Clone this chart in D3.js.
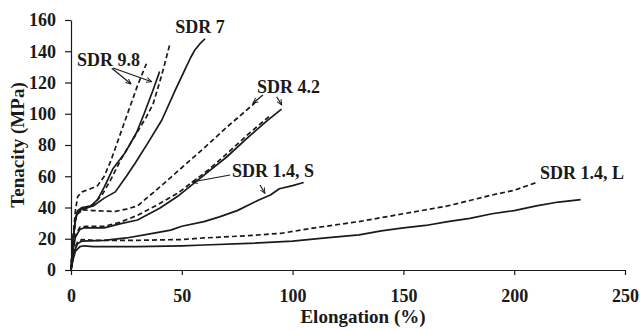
<!DOCTYPE html>
<html>
<head>
<meta charset="utf-8">
<script src="https://cdn.jsdelivr.net/npm/d3@7"></script>
<style>
  html, body { margin: 0; padding: 0; background: #fff; }
  svg text { font-family: "Liberation Serif", "DejaVu Serif", serif; font-weight: bold; fill: #1a1a1a; }
</style>
</head>
<body>
<div id="chart"></div>
<script>
// tick values
const xTicks = [0, 50, 100, 150, 200, 250];
const yTicks = [0, 20, 40, 60, 80, 100, 120, 140, 160];

// curves: [elongation %, tenacity MPa]
const sdr98Dashed = [[0,0],[1,22],[2,38],[3,47],[5,50],[8,51.5],[12,54],[15,60],[18,70],[22,86],[26,102],[30,118],[34,132]];
const sdr98Solid = [[0,0],[1,20],[2,33],[3,38],[5,40],[9,41],[12,45],[15,53],[19,65],[24.4,75],[29.6,88],[33,100],[37,115],[40,127]];
const sdr7Solid = [[0,0],[1,20],[2,32],[3,37],[5,39],[10,41],[15,46],[20,50],[25,60],[29,68.5],[35,82],[41,96],[47,115],[52,130],[54,136],[56,141],[58,144.5],[60.5,148]];
const sdr7Dashed = [[0,0],[1,20],[2,32],[3,36],[5,38],[10,42],[14,48],[18,58],[23,72],[29.6,87.5],[34,98],[37,106],[41,125],[44.7,145]];
const sdr42Dashed = [[0,0],[1,20],[2,32],[3,37],[5,38.5],[10,38],[20,37.5],[25,39],[30,41],[40,53],[52,68],[60,78],[70,91],[83,107]];
const sdr42Solid = [[0,0],[1,13],[2,21],[4,26],[6,27],[15,27],[22,29.5],[30,32],[40,39.5],[48,47],[55,55],[62,63],[70,72],[80,85],[88,95],[95,103]];
const sdr14SDashed = [[0,0],[1,14],[2,22],[4,27.5],[7,28],[15,28],[22,30.5],[30,35],[40,42.5],[48,49],[55,56.5],[62,64],[70,74],[80,87],[90,99]];
const sdr14SSolid = [[0,0],[1,10],[3,17],[5,18.5],[15,19],[25,20.5],[35,23],[45,25.5],[50,28],[60,31],[67,34],[75,38],[85,45],[90,48],[94,52],[100,54],[105,56]];
const sdr14LDashed = [[0,0],[1,9],[2,15],[3,18],[5,19.5],[10,19],[30,19],[50,19.5],[60,20.5],[80,22],[95,23.5],[110,27],[130,31],[150,36],[170,41],[190,48],[200,51],[210,56]];
const sdr14LSolid = [[0,0],[1,7],[2,12],[4,15],[6,15.5],[10,15],[30,15],[50,15.5],[60,16],[80,17],[100,18.5],[115,20.5],[130,22.5],[140,25],[150,27],[160,28.5],[170,31],[180,33],[190,36],[200,38],[210,41],[220,43.5],[230,45]];

const curves = [
  { pts: sdr98Dashed, dashed: true },
  { pts: sdr98Solid, dashed: false },
  { pts: sdr7Solid, dashed: false },
  { pts: sdr7Dashed, dashed: true },
  { pts: sdr42Dashed, dashed: true },
  { pts: sdr42Solid, dashed: false },
  { pts: sdr14SDashed, dashed: true },
  { pts: sdr14SSolid, dashed: false },
  { pts: sdr14LDashed, dashed: true },
  { pts: sdr14LSolid, dashed: false },
];

// annotation labels, anchored at data coords (left, baseline)
const labelText = ["SDR 7", "SDR 9.8", "SDR 4.2", "SDR 1.4, S", "SDR 1.4, L"];
const labelX = [47, 2.7, 83.9, 72.7, 211.6];
const labelY = [151.7, 130.5, 113.3, 59.5, 58.2];

// arrows: [x1, y1, x2, y2] in data coords, head at (x2, y2)
const arrows = [
  [18.4, 129.1, 27.1, 119],
  [19, 129.3, 36.4, 120.5],
  [86.6, 112, 82.1, 106.7],
  [92.8, 110.9, 95.1, 105.6],
  [71.8, 60.8, 54.6, 56.3],
  [85.3, 54.4, 87.5, 49.1],
];

const W = 640, H = 330;
const margin = { top: 20, right: 15, bottom: 60, left: 71 };

const svg = d3.select("#chart").append("svg")
  .attr("width", W).attr("height", H);

const x = d3.scaleLinear().domain([0, 250]).range([margin.left, W - margin.right]);
const y = d3.scaleLinear().domain([0, 160]).range([H - margin.bottom, margin.top]);

const ink = "#1a1a1a";

svg.append("defs").append("marker")
  .attr("id", "head")
  .attr("viewBox", "0 0 10 10")
  .attr("refX", 9).attr("refY", 5)
  .attr("markerWidth", 6).attr("markerHeight", 6)
  .attr("markerUnits", "userSpaceOnUse")
  .attr("orient", "auto")
  .append("path")
  .attr("d", "M0,1 L9,5 L0,9")
  .attr("fill", "none")
  .attr("stroke", ink)
  .attr("stroke-width", 1.6);

// axes
const xAxis = svg.append("g")
  .attr("transform", `translate(0,${y(0)})`)
  .call(d3.axisBottom(x).tickValues(xTicks).tickSize(5).tickSizeOuter(0).tickPadding(14));
const yAxis = svg.append("g")
  .attr("transform", `translate(${x(0)},0)`)
  .call(d3.axisLeft(y).tickValues(yTicks).tickSize(6).tickSizeOuter(0).tickPadding(9));

[xAxis, yAxis].forEach((ax) => {
  ax.select(".domain").attr("stroke", ink).attr("stroke-width", 1.2);
  ax.selectAll(".tick line").attr("stroke", ink).attr("stroke-width", 1.2);
  ax.selectAll(".tick text")
    .style("font-size", "18px")
    .style("font-family", "'Liberation Serif', serif")
    .style("font-weight", "bold")
    .attr("fill", ink);
});

// curves
const line = d3.line().x((d) => x(d[0])).y((d) => y(d[1])).curve(d3.curveLinear);

svg.append("g")
  .selectAll("path")
  .data(curves)
  .join("path")
  .attr("d", (d) => line(d.pts))
  .attr("fill", "none")
  .attr("stroke", ink)
  .attr("stroke-width", 1.7)
  .attr("stroke-linejoin", "round")
  .attr("stroke-dasharray", (d) => d.dashed ? "5,3" : null);

// arrows
svg.append("g")
  .selectAll("line")
  .data(arrows)
  .join("line")
  .attr("x1", (d) => x(d[0])).attr("y1", (d) => y(d[1]))
  .attr("x2", (d) => x(d[2])).attr("y2", (d) => y(d[3]))
  .attr("stroke", ink)
  .attr("stroke-width", 1.2)
  .attr("marker-end", "url(#head)");

// labels
svg.append("g")
  .selectAll("text")
  .data(labelText)
  .join("text")
  .attr("x", (_, i) => x(labelX[i]))
  .attr("y", (_, i) => y(labelY[i]))
  .style("font-size", "18px")
  .text((d) => d);

// axis titles
svg.append("text")
  .attr("x", 363).attr("y", 323)
  .attr("text-anchor", "middle")
  .style("font-size", "19px")
  .text("Elongation (%)");

svg.append("text")
  .attr("transform", "rotate(-90)")
  .attr("x", -145).attr("y", 24)
  .attr("text-anchor", "middle")
  .style("font-size", "19px")
  .text("Tenacity (MPa)");
</script>
</body>
</html>
